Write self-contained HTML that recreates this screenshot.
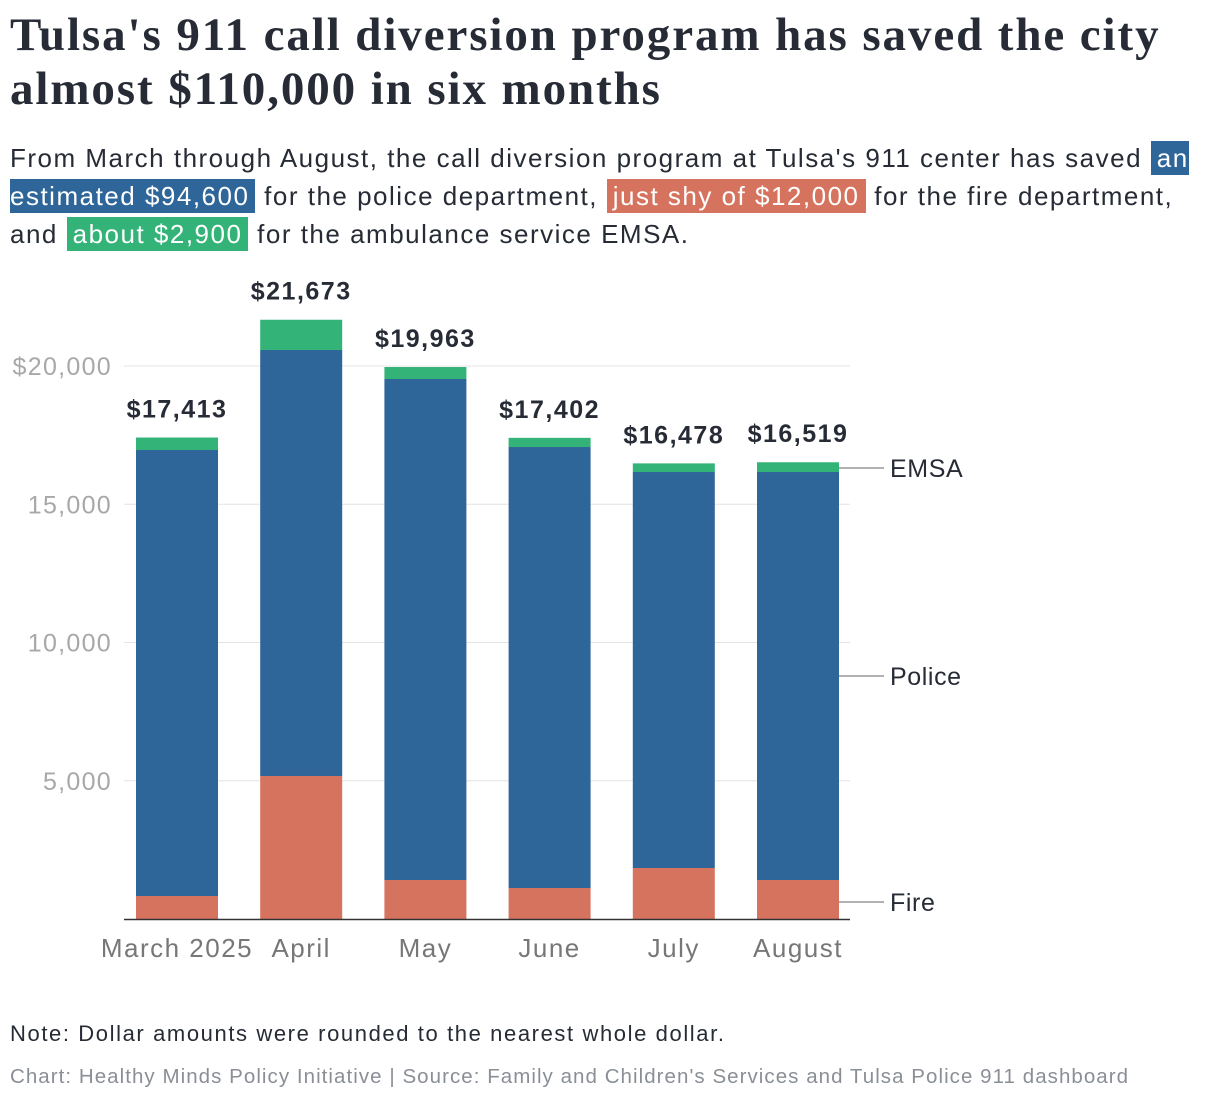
<!DOCTYPE html>
<html><head><meta charset="utf-8">
<style>
body{margin:0;width:1220px;height:1102px;background:#fff;overflow:hidden;font-family:"Liberation Sans",sans-serif;color:#262b35;position:relative}
#title{position:absolute;left:10px;top:8px;width:1210px;font-family:"Liberation Serif",serif;font-weight:bold;font-size:47px;line-height:54px;letter-spacing:1.9px;margin:0}
#sub{position:absolute;left:10px;top:139px;width:1205px;font-size:26px;line-height:38px;letter-spacing:1.5px}
.hl{color:#fff;padding:2px 6px}
#note{position:absolute;left:10px;top:1021px;font-size:22px;letter-spacing:1.6px}
#src{position:absolute;left:10px;top:1065px;font-size:20.5px;color:#8a8f96;letter-spacing:1.05px}
svg{position:absolute;left:0;top:0}
</style></head><body>
<h1 id="title">Tulsa's 911 call diversion program has saved the city almost $110,000 in six months</h1>
<div id="sub">From March through August, the call diversion program at Tulsa's 911 center has saved <span class="hl" style="background:#2f6699">an estimated $94,600</span> for the police department, <span class="hl" style="background:#d6735e">just shy of $12,000</span> for the fire department, and <span class="hl" style="background:#33b377">about $2,900</span> for the ambulance service EMSA.</div>
<svg id="chart" width="1220" height="1102"></svg>
<div id="note">Note: Dollar amounts were rounded to the nearest whole dollar.</div>
<div id="src">Chart: Healthy Minds Policy Initiative | Source: Family and Children's Services and Tulsa Police 911 dashboard</div>
<script>
const categories=["March 2025","April","May","June","July","August"];
const fire=[832,5172,1410,1121,1844,1410];
const police=[16130,15407,18120,15949,14322,14756];
const emsa=[451,1094,433,332,312,353];
const totals=["$17,413","$21,673","$19,963","$17,402","$16,478","$16,519"];
const yTicks=[5000,10000,15000,20000];
const yTickLabels=["5,000","10,000","15,000","$20,000"];

const svg=document.getElementById('chart');
const NS='http://www.w3.org/2000/svg';
const y0=919,pxPer=553/20000;
const y=v=>y0-v*pxPer;
const xc=i=>177+i*124.2;
const bw=82;
function mk(t,a){const e=document.createElementNS(NS,t);for(const k in a)e.setAttribute(k,a[k]);svg.appendChild(e);return e;}
yTicks.forEach((t,i)=>{
  const g=mk('line',{x1:124,x2:850,y1:y(t),y2:y(t),stroke:'#e4e4e4','stroke-width':1});
  
  
  const l=mk('text',{x:112,y:y(t)+9,'text-anchor':'end','font-size':25,'letter-spacing':1.3,fill:'#a8a8a8','font-family':'Liberation Sans'});
  l.textContent=yTickLabels[i];
  
  
});
categories.forEach((c,i)=>{
  const x=xc(i)-bw/2;
  const segs=[[0,fire[i],'#d6735e','fire'],[fire[i],fire[i]+police[i],'#2f6699','police'],[fire[i]+police[i],fire[i]+police[i]+emsa[i],'#33b377','emsa']];
  segs.forEach(s=>{
    const r=mk('rect',{x:x,y:y(s[1]),width:bw,height:y(s[0])-y(s[1]),fill:s[2]});
    
    
  });
  const tot=fire[i]+police[i]+emsa[i];
  const t=mk('text',{x:xc(i),y:y(tot)-20,'text-anchor':'middle','font-size':25,'letter-spacing':1.5,'font-weight':'bold',fill:'#262b35','font-family':'Liberation Sans'});
  t.textContent=totals[i];
  
  
  const xl=mk('text',{x:xc(i),y:957,'text-anchor':'middle','font-size':26,'letter-spacing':1.5,fill:'#777','font-family':'Liberation Sans'});
  xl.textContent=c;
  
  
});
const ax=mk('line',{x1:124,x2:850,y1:y0+0.5,y2:y0+0.5,stroke:'#333','stroke-width':1.5});


const legend=["EMSA","Police","Fire"];
const legY=[468,676,902];
legend.forEach((l,k)=>{
  const ln=mk('line',{x1:839,x2:884,y1:legY[k],y2:legY[k],stroke:'#999','stroke-width':1.5});
  
  
  const t=mk('text',{x:890,y:legY[k]+9,'font-size':25,'letter-spacing':0.6,fill:'#262b35','font-family':'Liberation Sans'});
  t.textContent=l;
  
  
});
</script>
</body></html>
